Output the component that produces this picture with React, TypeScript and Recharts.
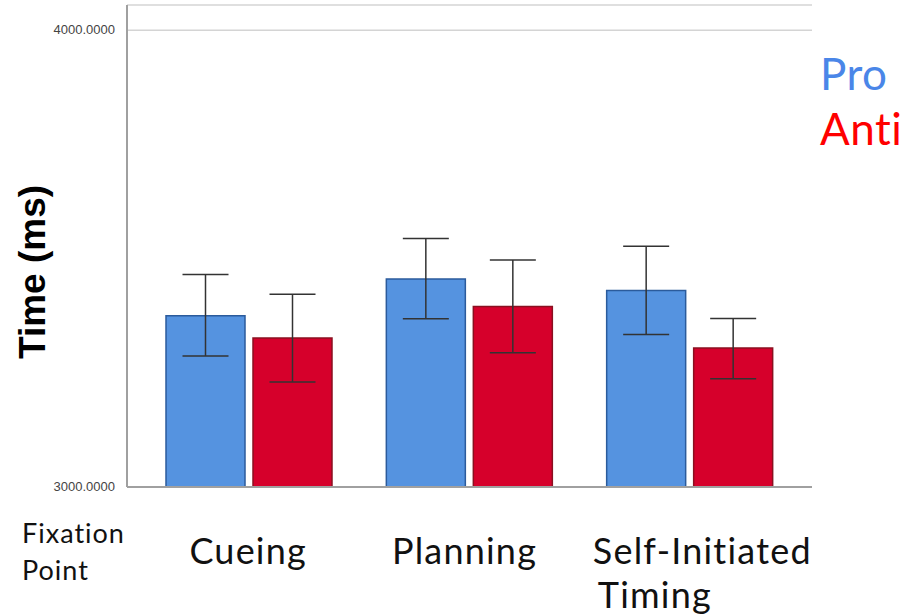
import React from 'react';
import { BarChart, Bar, XAxis, YAxis, CartesianGrid, ErrorBar } from 'recharts';

const categories = ['Cueing', 'Planning', 'Self-Initiated Timing'];
const proMean = [3375, 3455, 3430];
const proLow = [3287, 3368, 3334];
const proHigh = [3465, 3544, 3527];
const antiMean = [3326, 3395, 3304];
const antiLow = [3230, 3294, 3237];
const antiHigh = [3422, 3497, 3369];
const yTicks = [3000, 4000];

const data = categories.map((c, i) => ({
  name: c,
  pro: proMean[i],
  anti: antiMean[i],
  proErr: [proMean[i] - proLow[i], proHigh[i] - proMean[i]],
  antiErr: [antiMean[i] - antiLow[i], antiHigh[i] - antiMean[i]],
}));

const LABEL_FONT = 'Lato, "Open Sans", sans-serif';

const XTick = (props: any) => {
  const { x, y, payload } = props;
  const v: string = payload.value;
  const common = { fontSize: 36, fontFamily: LABEL_FONT, fill: '#111', letterSpacing: 1.2 };
  if (v === 'Self-Initiated Timing') {
    return (
      <g>
        <text x={x - 97} y={y + 69} textAnchor="start" {...common}>Self-Initiated</text>
        <text x={x - 92} y={y + 113} textAnchor="start" {...common}>Timing</text>
      </g>
    );
  }
  const dx = v === 'Planning' ? -5 : -1;
  return (
    <text x={x + dx} y={y + 69} textAnchor="middle" {...common}>{v}</text>
  );
};

const YTick = (props: any) => {
  const { x, y, payload } = props;
  return (
    <text x={x} y={y} dy={4} textAnchor="end" fontSize={13} fontFamily="Arial, 'Liberation Sans', sans-serif" fill="#444">
      {Number(payload.value).toFixed(4)}
    </text>
  );
};

export default function App() {
  return (
    <div style={{ position: 'absolute', left: 0, top: 0, width: 903, height: 615, background: '#fff' }}>
      <BarChart
        width={903}
        height={615}
        data={data}
        margin={{ top: 5, right: 91, bottom: 0, left: 0 }}
        barCategoryGap={27}
        barGap={8}
      >
        <CartesianGrid horizontal={true} vertical={false} stroke="#d4d4d4" strokeWidth={1.5} />
        <XAxis
          dataKey="name"
          height={128}
          padding={{ left: 12, right: 12 }}
          axisLine={{ stroke: '#a0a0a0', strokeWidth: 2 }}
          tickLine={false}
          tick={<XTick />}
          interval={0}
        />
        <YAxis
          width={127}
          domain={[3000, 4055]}
          ticks={yTicks}
          allowDataOverflow
          axisLine={{ stroke: '#a0a0a0', strokeWidth: 2 }}
          tickLine={false}
          tick={<YTick />}
          tickMargin={6}
        />
        <Bar dataKey="pro" fill="#5593e0" stroke="#2b5b9c" strokeWidth={1.5} isAnimationActive={false}>
          <ErrorBar dataKey="proErr" width={23} stroke="#333" strokeWidth={1.5} />
        </Bar>
        <Bar dataKey="anti" fill="#d6002b" stroke="#8a1020" strokeWidth={1.5} isAnimationActive={false}>
          <ErrorBar dataKey="antiErr" width={23} stroke="#333" strokeWidth={1.5} />
        </Bar>
      </BarChart>
      <div style={{ position: 'absolute', left: 33, top: 272, transform: 'translate(-50%, -50%) rotate(-90deg)', fontFamily: "Arial, 'Liberation Sans', sans-serif", fontWeight: 'bold', fontSize: 37, whiteSpace: 'nowrap', color: '#000' }}>
        Time (ms)
      </div>
      <div style={{ position: 'absolute', left: 22, top: 514, fontFamily: LABEL_FONT, fontSize: 27, lineHeight: '37px', letterSpacing: 1, color: '#111' }}>
        Fixation<br />Point
      </div>
      <div style={{ position: 'absolute', left: 820, top: 46, fontFamily: LABEL_FONT, fontSize: 44, lineHeight: '55px', letterSpacing: 0.5 }}>
        <div style={{ color: '#4a86e8' }}>Pro</div>
        <div style={{ color: '#ff0000' }}>Anti</div>
      </div>
    </div>
  );
}
